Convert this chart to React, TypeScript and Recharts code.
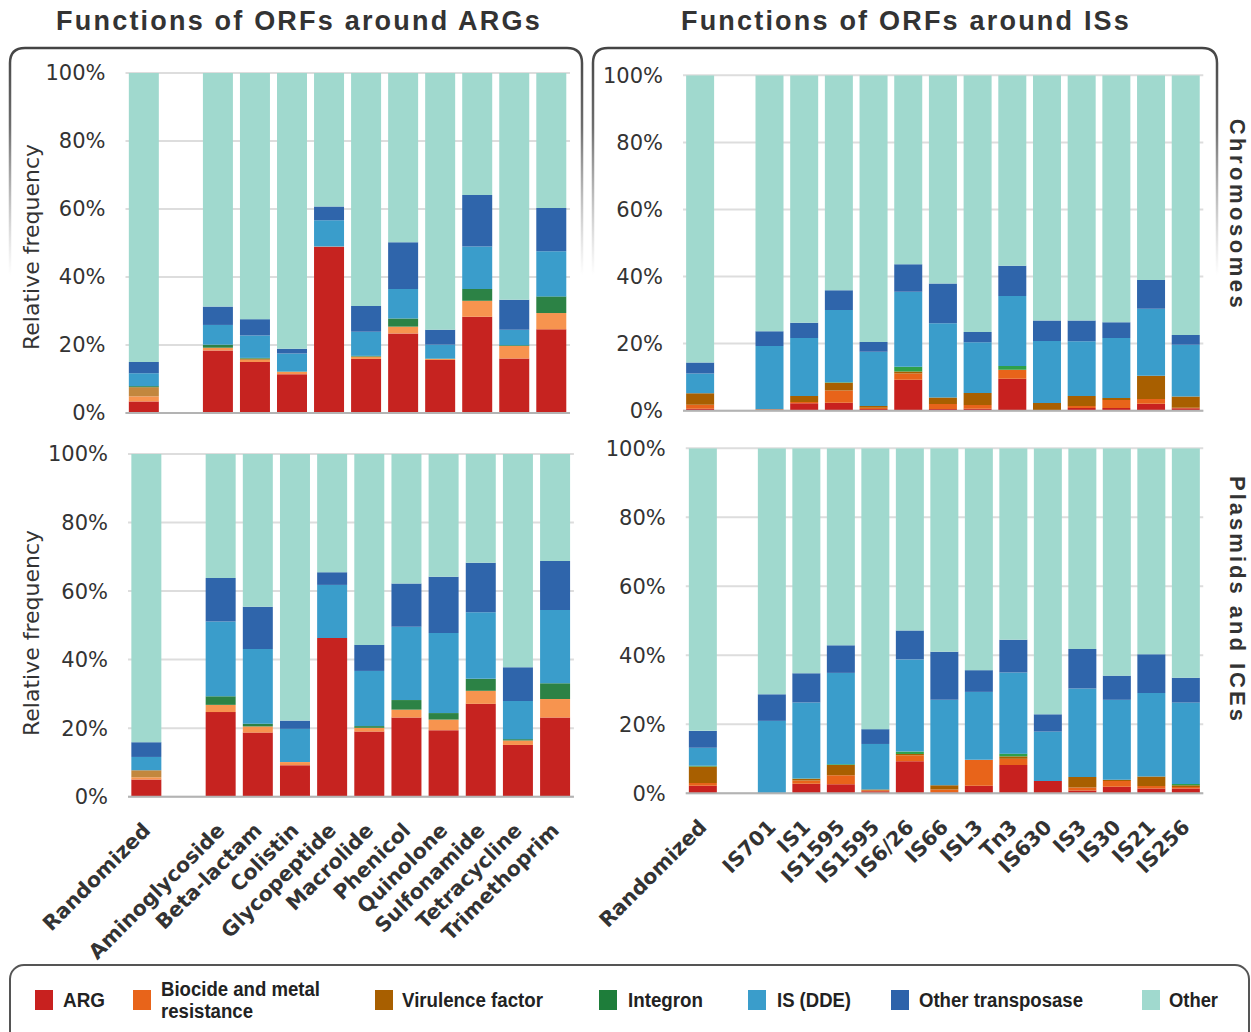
import React from "react";
import { BarChart, Bar, XAxis, YAxis, CartesianGrid } from "recharts";

// ---------- categories ----------
const argCategories = ["Randomized", "", "Aminoglycoside", "Beta-lactam", "Colistin", "Glycopeptide", "Macrolide", "Phenicol", "Quinolone", "Sulfonamide", "Tetracycline", "Trimethoprim"];
const isCategories = ["Randomized", "", "IS701", "IS1", "IS1595", "IS1595", "IS6/26", "IS66", "ISL3", "Tn3", "IS630", "IS3", "IS30", "IS21", "IS256"];

const seriesKeys = ["arg", "biocide", "virulence", "integron", "isdde", "otherTransposase", "other"];
const seriesNames = ["ARG", "Biocide and metal resistance", "Virulence factor", "Integron", "IS (DDE)", "Other transposase", "Other"];
const yTicks = [0, 20, 40, 60, 80, 100];

// ---------- Chromosomes, around ARGs (%) ----------
const chrArgARG = [3.4, null, 18.4, 15.0, 11.4, 48.9, 15.9, 23.4, 15.6, 28.3, 16.0, 24.6];
const chrArgBiocide = [1.5, null, 0.8, 0.6, 0.7, 0.1, 0.7, 2.0, 0.3, 4.7, 3.7, 4.8];
const chrArgVirulence = [2.7, null, 0, 0.4, 0, 0, 0, 0, 0, 0, 0, 0];
const chrArgIntegron = [0.3, null, 0.9, 0.2, 0.1, 0, 0.2, 2.4, 0.1, 3.5, 0.2, 4.9];
const chrArgIS = [3.8, null, 5.8, 6.6, 5.3, 7.7, 7.1, 8.7, 4.1, 12.5, 4.6, 13.3];
const chrArgOtherTransposase = [3.3, null, 5.4, 4.8, 1.4, 4.0, 7.6, 13.7, 4.4, 15.1, 8.8, 12.7];
const chrArgOther = [85.0, null, 68.7, 72.4, 81.1, 39.3, 68.5, 49.8, 75.5, 35.9, 66.7, 39.7];

// ---------- Chromosomes, around ISs (%) ----------
const chrIsARG = [0.6, null, 0, 2.2, 2.4, 0.5, 9.2, 0.5, 0.6, 9.5, 0.1, 0.8, 0.8, 2.1, 0.7];
const chrIsBiocide = [1.2, null, 0.4, 0.4, 3.6, 0.4, 1.9, 1.5, 1.1, 2.7, 0.1, 0.6, 2.4, 1.4, 0.2];
const chrIsVirulence = [3.4, null, 0, 1.8, 2.3, 0.5, 0.6, 1.9, 3.6, 0, 2.1, 3.0, 0.6, 6.9, 3.3];
const chrIsIntegron = [0, null, 0, 0, 0.2, 0, 1.4, 0, 0, 1.1, 0, 0, 0, 0, 0];
const chrIsIS = [5.9, null, 18.9, 17.3, 21.5, 16.2, 22.4, 22.2, 15.1, 20.9, 18.5, 16.3, 17.9, 20.0, 15.5];
const chrIsOtherTransposase = [3.3, null, 4.4, 4.5, 5.9, 2.9, 8.2, 11.8, 3.1, 9.0, 6.1, 6.2, 4.7, 8.6, 2.9];
const chrIsOther = [85.6, null, 76.3, 73.8, 64.1, 79.5, 56.3, 62.1, 76.5, 56.8, 73.1, 73.1, 73.6, 61.0, 77.4];

// ---------- Plasmids and ICEs, around ARGs (%) ----------
const plaArgARG = [5.0, null, 24.7, 18.7, 9.2, 46.3, 19.0, 23.1, 19.4, 27.1, 15.1, 23.1];
const plaArgBiocide = [0.7, null, 2.1, 1.8, 0.9, 0, 1.1, 2.3, 3.1, 3.8, 1.3, 5.4];
const plaArgVirulence = [2.0, null, 0, 0, 0, 0, 0, 0, 0, 0, 0, 0];
const plaArgIntegron = [0, null, 2.5, 0.8, 0, 0, 0.5, 2.8, 1.9, 3.5, 0.4, 4.6];
const plaArgIS = [3.9, null, 21.8, 21.8, 9.7, 15.5, 16.1, 21.4, 23.4, 19.4, 11.1, 21.4];
const plaArgOtherTransposase = [4.3, null, 12.7, 12.3, 2.4, 3.7, 7.6, 12.6, 16.4, 14.5, 9.9, 14.3];
const plaArgOther = [84.1, null, 36.2, 44.6, 77.8, 34.5, 55.7, 37.8, 35.8, 31.7, 62.2, 31.2];

// ---------- Plasmids and ICEs, around ISs (%) ----------
const plaIsARG = [2.2, null, 0, 2.8, 2.6, 0.6, 9.3, 0.3, 2.2, 8.2, 3.6, 0.8, 1.9, 1.4, 1.4];
const plaIsBiocide = [0.8, null, 0, 0.9, 2.6, 0.3, 1.7, 0.8, 7.5, 1.8, 0, 0.9, 1.7, 0.7, 0.4];
const plaIsVirulence = [4.8, null, 0, 0.5, 3.0, 0.2, 0.4, 1.2, 0, 0.7, 0, 3.0, 0.3, 2.8, 0.5];
const plaIsIntegron = [0.2, null, 0, 0.1, 0.2, 0, 0.7, 0, 0, 0.8, 0, 0, 0, 0, 0.4];
const plaIsIS = [5.2, null, 21.0, 22.0, 26.5, 13.2, 26.7, 24.8, 19.7, 23.5, 14.3, 25.7, 23.2, 24.2, 23.6];
const plaIsOtherTransposase = [4.9, null, 7.7, 8.5, 8.0, 4.3, 8.4, 13.9, 6.3, 9.5, 5.0, 11.4, 7.0, 11.2, 7.2];
const plaIsOther = [81.9, null, 71.3, 65.2, 57.1, 81.4, 52.8, 59.0, 64.3, 55.5, 77.1, 58.2, 65.9, 59.7, 66.5];

// ---------- colours ----------
const legendColors = ["#C8211F", "#E8641A", "#A85F00", "#1E7D3A", "#3A9DCB", "#2E63AA", "#A0D9CE"];
const argPanelColors = ["#C62320", "#F7944F", "#C2873E", "#2C8245", "#3A9DCB", "#2F65AB", "#A0D9CE"];
const isPanelColors = ["#C8211F", "#E8641A", "#A85F00", "#2EA04A", "#3A9DCB", "#2F65AB", "#A0D9CE"];

type Row = { key: string; label: string; [k: string]: any };

function buildRows(cats: string[], series: (number | null)[][]): Row[] {
  return cats.map((c, i) => {
    const row: Row = { key: "k" + i, label: c };
    seriesKeys.forEach((k, j) => {
      row[k] = series[j][i];
    });
    return row;
  });
}

const chrArgRows = buildRows(argCategories, [chrArgARG, chrArgBiocide, chrArgVirulence, chrArgIntegron, chrArgIS, chrArgOtherTransposase, chrArgOther]);
const chrIsRows = buildRows(isCategories, [chrIsARG, chrIsBiocide, chrIsVirulence, chrIsIntegron, chrIsIS, chrIsOtherTransposase, chrIsOther]);
const plaArgRows = buildRows(argCategories, [plaArgARG, plaArgBiocide, plaArgVirulence, plaArgIntegron, plaArgIS, plaArgOtherTransposase, plaArgOther]);
const plaIsRows = buildRows(isCategories, [plaIsARG, plaIsBiocide, plaIsVirulence, plaIsIntegron, plaIsIS, plaIsOtherTransposase, plaIsOther]);

const makeTick = (rows: Row[]) => (props: any) => {
  const { x, y, payload } = props;
  const row = rows.find((r) => r.key === payload.value);
  const label = row ? row.label : "";
  const ax = x + 5;
  const ay = y + 35;
  return (
    <text
      x={ax}
      y={ay}
      transform={`rotate(-45 ${ax} ${ay})`}
      textAnchor="end"
      fontFamily="DejaVu Sans"
      fontWeight="bold"
      fontSize={20.5}
      fill="#333"
    >
      {label}
    </text>
  );
};

type PanelProps = {
  rows: Row[];
  colors: string[];
  width: number;
  height: number;
  margin: { top: number; right: number; left: number; bottom: number };
  yWidth: number;
  xHeight: number;
  showLabels: boolean;
};

function Panel({ rows, colors, width, height, margin, yWidth, xHeight, showLabels }: PanelProps) {
  return (
    <BarChart width={width} height={height} data={rows} margin={margin} barCategoryGap="9%">
      <CartesianGrid vertical={false} stroke="#dddddd" strokeWidth={2} />
      <XAxis
        dataKey="key"
        height={xHeight}
        interval={0}
        axisLine={{ stroke: "#b3b3b3", strokeWidth: 2 }}
        tickLine={false}
        tickSize={0}
        tickMargin={0}
        tick={showLabels ? makeTick(rows) : false}
      />
      <YAxis
        width={yWidth}
        domain={[0, 100]}
        allowDataOverflow
        ticks={yTicks}
        tickFormatter={(v: number) => v + "%"}
        axisLine={false}
        tickLine={false}
        tickSize={0}
        tickMargin={20}
        tick={{ fontSize: 21, fill: "#333", fontFamily: "DejaVu Sans" }}
      />
      {seriesKeys.map((k, i) => (
        <Bar key={k} dataKey={k} name={seriesNames[i]} stackId="s" fill={colors[i]} isAnimationActive={false} />
      ))}
    </BarChart>
  );
}

const boxPath = (x0: number, x1: number, y0: number, yb: number, r: number) =>
  `M ${x0} ${yb} L ${x0} ${y0 + r} Q ${x0} ${y0} ${x0 + r} ${y0} L ${x1 - r} ${y0} Q ${x1} ${y0} ${x1} ${y0 + r} L ${x1} ${yb}`;

const legendItems = [
  { sx: 35, tx: 63, tw: 42 },
  { sx: 133, tx: 161, tw: 159 },
  { sx: 375, tx: 402, tw: 141 },
  { sx: 599, tx: 628, tw: 75 },
  { sx: 748, tx: 777, tw: 74 },
  { sx: 891, tx: 919, tw: 164 },
  { sx: 1142, tx: 1169, tw: 49 },
];

export default function App() {
  const titleFont = { fontFamily: "Liberation Sans, Arial, sans-serif", fontWeight: 700 as any, fill: "#333" };
  const legendFont = "Liberation Sans Narrow, Liberation Sans, Arial, sans-serif";
  return (
    <div style={{ position: "relative", width: 1251, height: 1032, background: "#fff", overflow: "hidden" }}>
      <style>{`body{margin:0}`}</style>
      <svg width={1251} height={1032} style={{ position: "absolute", left: 0, top: 0 }}>
        <defs>
          <linearGradient id="fadeL" gradientUnits="userSpaceOnUse" x1="0" y1="48" x2="0" y2="275">
            <stop offset="0" stopColor="#444" stopOpacity="1" />
            <stop offset="0.35" stopColor="#555" stopOpacity="0.85" />
            <stop offset="1" stopColor="#888" stopOpacity="0" />
          </linearGradient>
        </defs>
        <path d={boxPath(10, 582, 48, 280, 15)} fill="none" stroke="url(#fadeL)" strokeWidth={2.5} />
        <path d={boxPath(593, 1217, 48, 280, 15)} fill="none" stroke="url(#fadeL)" strokeWidth={2.5} />
        <text x={299} y={30} textAnchor="middle" fontSize={27} letterSpacing={2.2} {...titleFont}>
          Functions of ORFs around ARGs
        </text>
        <text x={906} y={30} textAnchor="middle" fontSize={27} letterSpacing={2.2} {...titleFont}>
          Functions of ORFs around ISs
        </text>
        <text x={1237} y={215} textAnchor="middle" dominantBaseline="central" transform="rotate(90 1237 215)" fontSize={22} letterSpacing={3.5} {...titleFont}>
          Chromosomes
        </text>
        <text x={1237} y={600} textAnchor="middle" dominantBaseline="central" transform="rotate(90 1237 600)" fontSize={22} letterSpacing={3} {...titleFont}>
          Plasmids and ICEs
        </text>
        <text x={31} y={247} textAnchor="middle" dominantBaseline="central" transform="rotate(-90 31 247)" fontSize={22} fontFamily="DejaVu Sans" fill="#333">
          Relative frequency
        </text>
        <text x={31} y={633} textAnchor="middle" dominantBaseline="central" transform="rotate(-90 31 633)" fontSize={22} fontFamily="DejaVu Sans" fill="#333">
          Relative frequency
        </text>
        <rect x={10} y={965} width={1239} height={100} rx={14} fill="none" stroke="#555" strokeWidth={2} />
        {legendItems.map((it, i) => (
          <g key={i}>
            <rect x={it.sx} y={990} width={18} height={20} fill={legendColors[i]} />
            {i === 1 ? (
              <>
                <text x={it.tx} y={996} fontFamily={legendFont} fontWeight={700} fontSize={20} fill="#222" textLength={it.tw} lengthAdjust="spacingAndGlyphs">
                  Biocide and metal
                </text>
                <text x={it.tx} y={1018} fontFamily={legendFont} fontWeight={700} fontSize={20} fill="#222" textLength={92} lengthAdjust="spacingAndGlyphs">
                  resistance
                </text>
              </>
            ) : (
              <text x={it.tx} y={1007} fontFamily={legendFont} fontWeight={700} fontSize={20} fill="#222" textLength={it.tw} lengthAdjust="spacingAndGlyphs">
                {seriesNames[i]}
              </text>
            )}
          </g>
        ))}
      </svg>

      <div style={{ position: "absolute", left: 0, top: 0 }}>
        <Panel rows={chrArgRows} colors={argPanelColors} width={600} height={440}
          margin={{ top: 73, right: 30, left: 0, bottom: 0 }} yWidth={125.5} xHeight={27} showLabels={false} />
      </div>
      <div style={{ position: "absolute", left: 600, top: 0 }}>
        <Panel rows={chrIsRows} colors={isPanelColors} width={651} height={440}
          margin={{ top: 75.3, right: 47.7, left: 0, bottom: 0 }} yWidth={83} xHeight={29.3} showLabels={false} />
      </div>
      <div style={{ position: "absolute", left: 0, top: 430 }}>
        <Panel rows={plaArgRows} colors={argPanelColors} width={600} height={570}
          margin={{ top: 24, right: 26.1, left: 0, bottom: 0 }} yWidth={128} xHeight={203.3} showLabels={true} />
      </div>
      <div style={{ position: "absolute", left: 560, top: 430 }}>
        <Panel rows={plaIsRows} colors={isPanelColors} width={691} height={570}
          margin={{ top: 18.3, right: 47.75, left: 0, bottom: 0 }} yWidth={125.75} xHeight={206.7} showLabels={true} />
      </div>
    </div>
  );
}
